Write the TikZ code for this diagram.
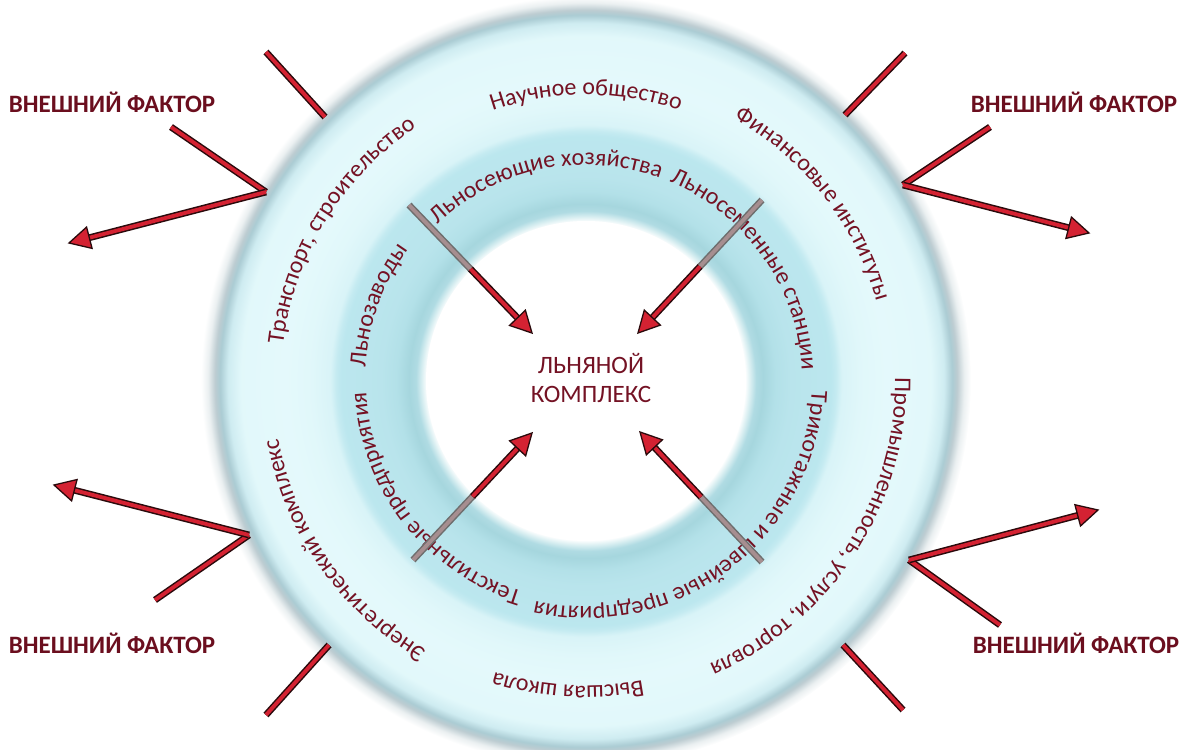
\documentclass[tikz,border=0pt]{standalone}
\usepackage{fontspec}
\setmainfont{Carlito}
\usetikzlibrary{decorations.text,calc}
\definecolor{tred}{HTML}{741224}
\definecolor{vfred}{HTML}{6B0E1E}
\definecolor{lnred}{HTML}{D42232}
\definecolor{lndark}{HTML}{2A0A0C}
\definecolor{gfill}{HTML}{A68E90}
\definecolor{gdark}{HTML}{6E6E6E}
\pgfdeclareradialshading{rings}{\pgfpointorigin}{%
rgb(0bp)=(1,1,1);
rgb(10.33bp)=(1,1,1);
rgb(10.65bp)=(0.86,0.94,0.95);
rgb(11.04bp)=(0.69,0.86,0.89);
rgb(11.50bp)=(0.65,0.84,0.87);
rgb(12.30bp)=(0.70,0.88,0.91);
rgb(13.30bp)=(0.725,0.895,0.925);
rgb(15.91bp)=(0.735,0.905,0.935);
rgb(16.23bp)=(0.77,0.92,0.945);
rgb(16.62bp)=(0.85,0.955,0.97);
rgb(17.86bp)=(0.88,0.97,0.98);
rgb(19.48bp)=(0.895,0.978,0.987);
rgb(22.40bp)=(0.885,0.972,0.982);
rgb(23.25bp)=(0.81,0.925,0.945);
rgb(23.77bp)=(0.67,0.80,0.83);
rgb(24.09bp)=(0.74,0.80,0.82);
rgb(24.55bp)=(0.92,0.94,0.945);
rgb(25bp)=(1,1,1);
rgb(50bp)=(1,1,1)}
\newcommand\rf{\fontsize{24}{28}\selectfont}
\newcommand\ringlabel[4]{%
  \path[ringtxt={#4}] ($(C)+(#1:#3pt)$) arc[start angle=#1, end angle=#2, radius=#3pt];}
\newcommand\arrowto[3]{%
  \coordinate (hb) at ($(#2)!21pt!(#1)$);
  \draw[#3] (#1) -- ($(#2)!17pt!(#1)$);
  \draw[headst] (#2) -- ($(hb)!11pt!90:(#2)$) -- ($(hb)!11pt!-90:(#2)$) -- cycle;}
\begin{document}
\begin{tikzpicture}[x=1pt,y=1pt,
  ext/.style={draw=lndark, line width=1.5pt, double=lnred, double distance=3.8pt},
  gry/.style={draw=gdark, line width=1.5pt, double=gfill, double distance=3.8pt},
  headst/.style={draw=lndark, line width=1.3pt, fill=lnred, line join=miter},
  vf/.style={font=\fontsize{25}{29}\selectfont\bfseries, text=vfred, inner sep=0pt},
  ringtxt/.style={decorate, decoration={text along path, text={|\rf|#1}, text align=center, text color=tred}}
]
\useasboundingbox (0,0) rectangle (1182,749);
\coordinate (C) at (586,368);
\shade[shading=rings] (C) circle[radius=385pt];
\fill[white] (C) circle[radius=160pt];

% outer ring labels
\ringlabel{135}{45}{286}{Научное общество}
\ringlabel{83}{-7}{301}{Финансовые институты}
\ringlabel{17}{-83}{309}{Промышленность, услуги, торговля}
\ringlabel{306.6}{226.6}{305}{Высшая школа}
\ringlabel{260}{170}{313}{Энергетический комплекс}
\ringlabel{193.5}{103.5}{305}{Транспорт, строительство}
% middle ring labels
\ringlabel{151.7}{51.7}{216}{Льносеющие хозяйства}
\ringlabel{85}{-15}{216}{Льносеменные станции}
\ringlabel{7.2}{-112.8}{226}{Трикотажные и швейные предприятия}
\ringlabel{268}{168}{220}{Текстильные предприятия}
\ringlabel{190}{130}{221}{Льнозаводы}

\node[text=tred, font=\fontsize{25}{29}\selectfont, align=center, inner sep=0pt] (lk) at (591,371) {ЛЬНЯНОЙ\\КОМПЛЕКС};

% inner arrows
\coordinate (nwS) at (409,544); \coordinate (nwT) at (532,416); \coordinate (nwM) at ($(nwS)!0.5!(nwT)$);
\coordinate (neS) at (762,549); \coordinate (neT) at (638,416); \coordinate (neM) at ($(neS)!0.5!(neT)$);
\coordinate (swS) at (413,189); \coordinate (swT) at (532,316); \coordinate (swM) at ($(swS)!0.5!(swT)$);
\coordinate (seS) at (762,187); \coordinate (seT) at (640,317); \coordinate (seM) at ($(seS)!0.5!(seT)$);
\draw[gry] (nwS) -- (nwM); \arrowto{nwM}{nwT}{ext}
\draw[gry] (neS) -- (neM); \arrowto{neM}{neT}{ext}
\draw[gry] (swS) -- (swM); \arrowto{swM}{swT}{ext}
\draw[gry] (seS) -- (seM); \arrowto{seM}{seT}{ext}

% external factors
\node[vf] (vftl) at (112,647) {ВНЕШНИЙ ФАКТОР};
\node[vf] (vftr) at (1074,647) {ВНЕШНИЙ ФАКТОР};
\node[vf] (vfbl) at (112,106) {ВНЕШНИЙ ФАКТОР};
\node[vf] (vfbr) at (1076,106) {ВНЕШНИЙ ФАКТОР};

% top-left
\coordinate (tlS1) at (266,697); \coordinate (tlS2) at (325,632);
\coordinate (tlA) at (266,557); \coordinate (tlL) at (171,622); \coordinate (tlT) at (69,506);
\draw[ext] (tlS1) -- (tlS2);
\draw[ext] (tlA) -- (tlL);
\arrowto{tlA}{tlT}{ext}
% top-right
\coordinate (trS1) at (905,696); \coordinate (trS2) at (845,634);
\coordinate (trA) at (903,564); \coordinate (trL) at (990,622); \coordinate (trT) at (1089,516);
\draw[ext] (trS1) -- (trS2);
\draw[ext] (trA) -- (trL);
\arrowto{trA}{trT}{ext}
% bottom-left
\coordinate (blS1) at (266,34); \coordinate (blS2) at (329,104);
\coordinate (blA) at (249,214); \coordinate (blL) at (155,149); \coordinate (blT) at (54,264);
\draw[ext] (blS1) -- (blS2);
\draw[ext] (blA) -- (blL);
\arrowto{blA}{blT}{ext}
% bottom-right
\coordinate (brS1) at (903,39); \coordinate (brS2) at (843,104);
\coordinate (brA) at (909,189); \coordinate (brL) at (1000,124); \coordinate (brT) at (1098,239);
\draw[ext] (brS1) -- (brS2);
\draw[ext] (brA) -- (brL);
\arrowto{brA}{brT}{ext}
\end{tikzpicture}
\end{document}
